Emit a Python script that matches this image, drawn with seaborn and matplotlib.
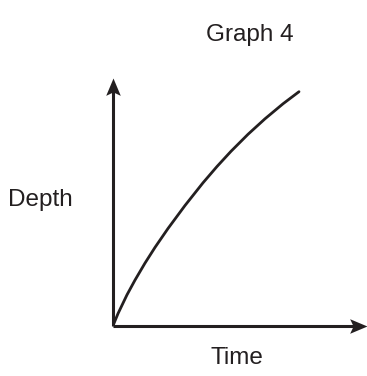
import matplotlib
matplotlib.use("Agg")
import matplotlib.pyplot as plt
from matplotlib.path import Path
import seaborn as sns
import pandas as pd

sns.set_theme(style="white")
plt.rcParams['font.family'] = ['Liberation Sans', 'DejaVu Sans']

# Data (arbitrary units)
time = [0, 5, 14, 22, 32, 42, 55, 72, 90, 104, 118, 135, 152, 170, 186]
depth = [0, 12.1, 30.9, 45.6, 62.6, 78.3, 97.2, 120.2, 142.9, 159.2, 174.4, 191.4, 206.9, 221.9, 234]
title = "Graph 4"
xlabel = "Time"
ylabel = "Depth"

df = pd.DataFrame({"Time": time, "Depth": depth})
INK = "#231f20"

W, H = 367, 376
fig = plt.figure(figsize=(W / 100, H / 100), dpi=100)
ox, oy = 113, 325.7
xmax_px, ytop_px = 366.5, 78
ax = fig.add_axes([ox / W, (H - oy) / H, (xmax_px - ox) / W, (oy - ytop_px) / H])
ax.set_xlim(0, xmax_px - ox)
ax.set_ylim(0, oy - ytop_px)
ax.patch.set_alpha(0)

sns.lineplot(data=df, x="Time", y="Depth", ax=ax, color=INK, linewidth=2.0,
             sort=False, estimator=None)
ax.lines[-1].set_solid_joinstyle("round")

for s in ax.spines.values():
    s.set_visible(False)
ax.set_xticks([])
ax.set_yticks([])
ax.set_xlabel("")
ax.set_ylabel("")

# axis lines with stealth-like arrowheads
ax.plot([0, 0.97], [0, 0], transform=ax.transAxes, color=INK, lw=2.2,
        clip_on=False, solid_capstyle="butt")
ax.plot([0, 0], [0, 0.96], transform=ax.transAxes, color=INK, lw=2.2,
        clip_on=False, solid_capstyle="butt")
up = Path([(0, 0), (-0.42, -1), (0, -0.8), (0.42, -1), (0, 0)],
          [Path.MOVETO, Path.LINETO, Path.LINETO, Path.LINETO, Path.CLOSEPOLY])
right = Path([(0, 0), (-1, 0.42), (-0.8, 0), (-1, -0.42), (0, 0)],
             [Path.MOVETO, Path.LINETO, Path.LINETO, Path.LINETO, Path.CLOSEPOLY])
ax.plot([0], [1], transform=ax.transAxes, marker=up, markersize=25, color=INK,
        markeredgewidth=0, clip_on=False, linestyle="none")
ax.plot([1], [0], transform=ax.transAxes, marker=right, markersize=25, color=INK,
        markeredgewidth=0, clip_on=False, linestyle="none")

fig.text(250 / W, 1 - 35 / H, title, ha="center", va="center", fontsize=17.5, color=INK)
fig.text(40 / W, 1 - 200 / H, ylabel, ha="center", va="center", fontsize=17.5, color=INK)
fig.text(237 / W, 1 - 358 / H, xlabel, ha="center", va="center", fontsize=17.5, color=INK)

fig.savefig("out.png", dpi=100)
